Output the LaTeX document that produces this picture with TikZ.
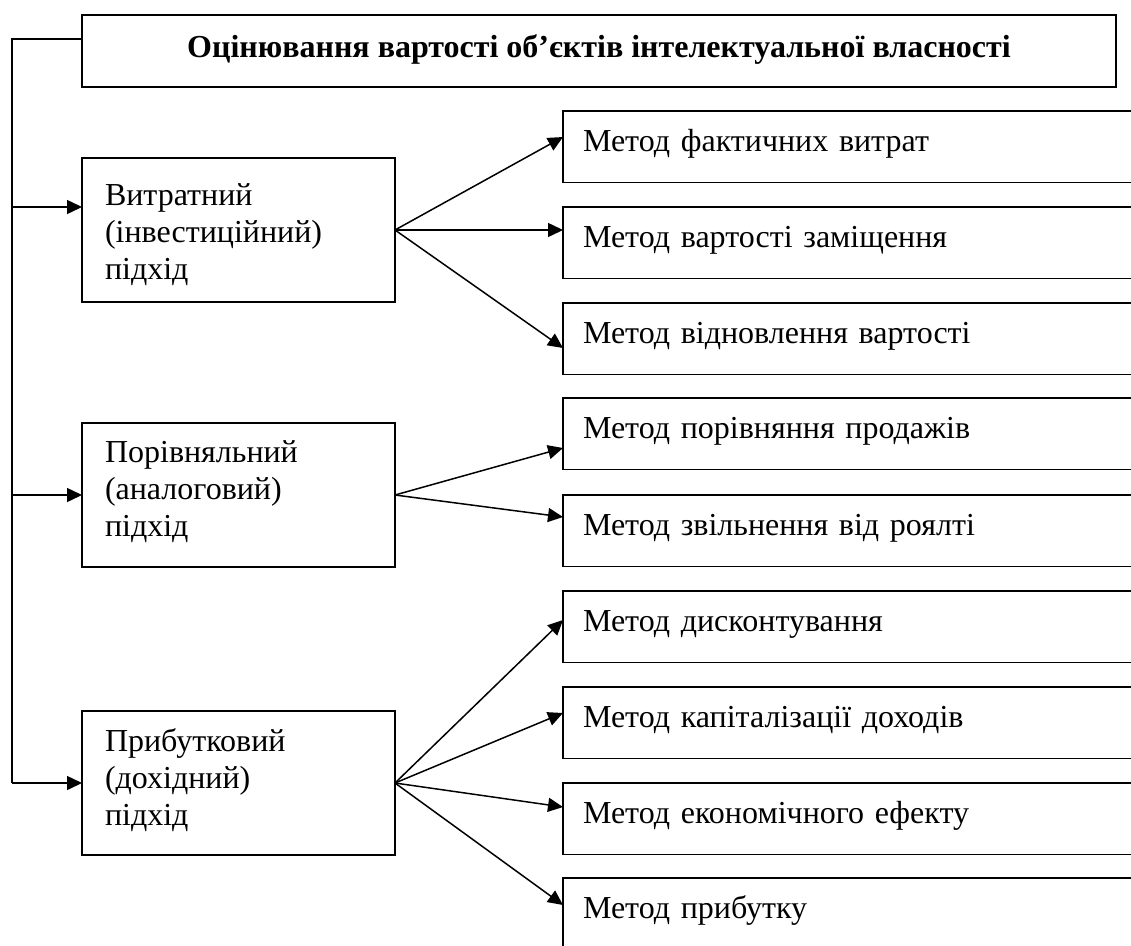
\documentclass[tikz,border=0pt]{standalone}
\usepackage{fontspec}
\setmainfont{Liberation Serif}
\usetikzlibrary{arrows.meta}
\begin{document}
\begin{tikzpicture}[x=1pt,y=-1pt,
  box/.style={draw, line width=1.9pt, inner ysep=0pt, anchor=north west, outer sep=0pt},
  appr/.style={box, minimum height=144pt, text width=267pt, inner xsep=23pt, align=left, font=\fontsize{32}{37}\selectfont},
  meth/.style={box, minimum height=71.5pt, text width=560pt, inner xsep=20pt, align=left, text height=22pt, text depth=13.5pt, font=\fontsize{32}{37}\selectfont},
  conn/.style={line width=1.5pt},
  arr/.style={conn, -{Triangle[length=15pt,width=14pt]}},
  rarr/.style={conn, {Triangle[length=15pt,width=14pt]}-}]
\useasboundingbox (0,0) rectangle (1131,945);
\clip (0,0) rectangle (1131,945);

\node[box, minimum width=1034pt, minimum height=72pt, inner xsep=0pt, text height=22pt, text depth=10pt, font=\fontsize{32}{36}\selectfont\bfseries] (title) at (82,15) {Оцінювання вартості об’єктів інтелектуальної власності};

\node[appr, text height=25pt, text depth=75pt] (a1) at (82,158) {Витратний\\(інвестиційний)\\підхід};
\node[appr, text height=20pt, text depth=86pt] (a2) at (82,423) {Порівняльний\\(аналоговий)\\підхід};
\node[appr, text height=20pt, text depth=84pt] (a3) at (82,711) {Прибутковий\\(дохідний)\\підхід};

\node[meth] (m1) at (563,111) {Метод фактичних витрат};
\node[meth] (m2) at (563,207) {Метод вартості заміщення};
\node[meth] (m3) at (563,303) {Метод відновлення вартості};
\node[meth] (m4) at (563,398) {Метод порівняння продажів};
\node[meth] (m5) at (563,495) {Метод звільнення від роялті};
\node[meth] (m6) at (563,591) {Метод дисконтування};
\node[meth] (m7) at (563,687) {Метод капіталізації доходів};
\node[meth] (m8) at (563,783) {Метод економічного ефекту};
\node[meth] (m9) at (563,878) {Метод прибутку};

\coordinate (spt) at (12,39);
\coordinate (spb) at (a3.west -| spt);
\draw[conn] (title.west |- spt) -- (spt) -- (spb);
\draw[arr] (spb) -- (a3.west);
\draw[arr] (spt |- a2.west) -- (a2.west);
\draw[rarr] ([yshift=23pt]a1.west) -- ++(-70,0);

\draw[arr] (a1.east) -- ([yshift=9.75pt]m1.west);
\draw[arr] (a1.east) -- ([yshift=12.75pt]m2.west);
\draw[arr] (a1.east) -- ([yshift=-9.25pt]m3.west);
\draw[arr] (a2.east) -- ([yshift=-14.25pt]m4.west);
\draw[arr] (a2.east) -- ([yshift=13.75pt]m5.west);
\draw[arr] (a3.east) -- ([yshift=6.75pt]m6.west);
\draw[arr] (a3.east) -- ([yshift=9.75pt]m7.west);
\draw[arr] (a3.east) -- ([yshift=11.75pt]m8.west);
\draw[arr] (a3.east) -- ([yshift=8.75pt]m9.west);
\end{tikzpicture}
\end{document}
